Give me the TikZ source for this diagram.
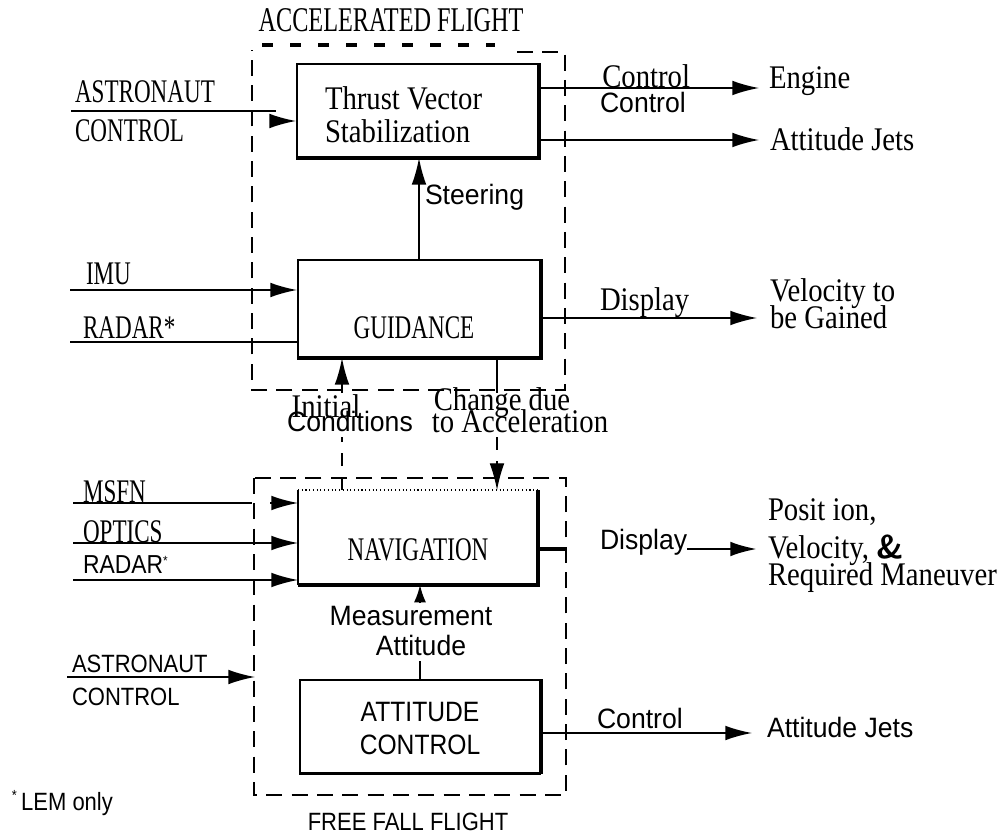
\documentclass[tikz,border=0pt]{standalone}
\usepackage{fontspec}
\setmainfont{Liberation Serif}
\newfontfamily\rmA[FakeStretch=0.70]{Liberation Serif}
\newfontfamily\rmB[FakeStretch=0.87]{Liberation Serif}
\newfontfamily\sfA[FakeStretch=0.88]{Liberation Sans}
\newfontfamily\sfB[FakeStretch=0.95]{Liberation Sans}
\usetikzlibrary{arrows.meta}
\begin{document}
\lineskiplimit=-40pt
\lineskip=0pt
\begin{tikzpicture}[x=0.75pt,y=-0.75pt,
  box/.style={draw, line width=1.4pt, inner sep=0pt, minimum width=180pt},
  heavy/.style={line width=3.2pt},
  conn/.style={line width=1.2pt},
  arr/.style={conn, -{Latex[length=20pt,width=11pt]}},
  frame/.style={line width=1.1pt, dash pattern=on 12pt off 7pt},
  topdots/.style={line width=3pt, dash pattern=on 8pt off 13pt},
  lab/.style={inner sep=0pt, outer sep=0pt},
  serU/.style={lab, font=\rmA\fontsize{24.75}{24.75}\selectfont},
  serL/.style={lab, font=\rmB\fontsize{24.75}{24.75}\selectfont},
  sanU/.style={lab, font=\sfA\fontsize{18.75}{18.75}\selectfont},
  sanL/.style={lab, font=\sfB\fontsize{21}{21}\selectfont}]
\useasboundingbox (0,0) rectangle (1005,837);
\fill[white] (0,0) rectangle (1005,837);

% ---------- accelerated flight ----------
\node[lab, font=\rmA\fontsize{26}{26}\selectfont] (acc) at (391,20) {ACCELERATED FLIGHT};
\draw[frame] (517,52) -- (565,52) -- (565,390) -- (252,390) -- (252,50);
\draw[topdots] (262,45) -- (495,45);

\node[box, minimum width=180.75pt, minimum height=69.75pt] (tvs) at (417.5,110.5) {};
\draw[heavy] (tvs.north east) -- (tvs.south east) -- (tvs.south west);
\node[serL, anchor=base west, align=left] (tvstxt) at (325,143) {Thrust Vector\\Stabilization};

\node[serU, anchor=base west] (astA) at (75,103) {ASTRONAUT};
\node[serU, anchor=base west] (ctlA) at (75,142) {CONTROL};
\coordinate (astAin) at (71,111);
\coordinate (astAend) at (276,111);
\coordinate (astAk) at (274,121);
\draw[conn] (astAin) -- (astAend);
\draw[arr] (astAk) -- (astAk -| tvs.west);

\node[serL, anchor=base west] (engine) at (769,89) {Engine};
\coordinate (yEng) at (759,88);
\draw[arr] (tvs.east |- yEng) -- (yEng);
\node[serL, anchor=base east] (ctl1) at (690,88) {Control};
\node[sanL, anchor=base west] (ctl2) at (600,113) {Control};
\node[serL, anchor=base west] (ajet1) at (770,151) {Attitude Jets};
\coordinate (yAj) at (759,140);
\draw[arr] (tvs.east |- yAj) -- (yAj);

\node[box, minimum width=181.5pt, minimum height=72.75pt] (gd) at (419,308.5) {};
\draw[heavy] (gd.north east) -- (gd.south east) -- (gd.south west);
\node[serU] (gdtxt) at (414,328) {GUIDANCE};
\draw[arr] (gd.north) -- (gd.north |- tvs.south);
\node[sanL, anchor=base west] (steer) at (425,205) {Steering};

\node[serU, anchor=base west] (imu) at (86,285) {IMU};
\coordinate (imuin) at (70,290);
\draw[arr] (imuin) -- (imuin -| gd.west);
\node[serU, anchor=base west] (radA) at (83,339) {RADAR*};
\coordinate (radAin) at (70,342);
\draw[conn] (radAin) -- (radAin -| gd.west);

\node[serL, anchor=base west] (disp1) at (600,311) {Display};
\coordinate (yDsp) at (757,318);
\draw[arr] (gd.east |- yDsp) -- (yDsp);
\node[lab, font=\rmB\fontsize{24.75}{20.25}\selectfont, anchor=base west, align=left] (vel) at (770,329) {Velocity to\\be Gained};

% ---------- labels between ----------
\node[serL] (init) at (326,406) {Initial};
\node[sanL] (cond) at (350,421) {Conditions};
\node[serL] (chg) at (502,403) {Change due};
\node[serL] (toacc) at (520,421) {to Acceleration};

% ---------- free fall flight ----------
\draw[frame] (254,478) rectangle (566,795);
\node[lab, minimum width=180pt, minimum height=71.25pt] (nav) at (418,537.5) {};
\draw[line width=1.4pt] (nav.north west) -- (nav.south west);
\draw[heavy] (nav.north east) -- (nav.south east) -- (nav.south west);
\draw[line width=0.8pt, dotted] (nav.north west) -- (nav.north east);
\node[serU] (navtxt) at (418,550) {NAVIGATION};

\coordinate (icA) at (342,393);
\coordinate (icB) at (342,437);
\draw[arr] (icA) -- (icA |- gd.south);
\draw[line width=0.8pt, dash pattern=on 10pt off 8pt] (icA |- nav.north) -- (icB);
\coordinate (chA) at (497,393);
\coordinate (chB) at (497,437);
\draw[conn] (chA |- gd.south) -- (chA);
\draw[line width=0.8pt, dash pattern=on 10pt off 8pt, -{Latex[length=20pt,width=11pt]}] (chB) -- (chB |- nav.north);

\node[serU, anchor=base west] (msfn) at (83,502) {MSFN};
\coordinate (msfnin) at (73,503);
\coordinate (msfnend) at (252,503);
\coordinate (msfnk) at (270,503);
\draw[conn] (msfnin) -- (msfnend);
\draw[arr] (msfnk) -- (msfnk -| nav.west);
\node[serU, anchor=base west] (opt) at (83,542) {OPTICS};
\coordinate (optin) at (73,543);
\draw[arr] (optin) -- (optin -| nav.west);
\node[lab, font=\sfA\fontsize{19.5}{19.5}\selectfont, anchor=base west] (radB) at (83,573) {RADAR\raisebox{6pt}{\fontsize{10}{10}\selectfont *}};
\coordinate (radBin) at (73,580);
\draw[arr] (radBin) -- (radBin -| nav.west);

\coordinate (yDsp2) at (757,549);
\coordinate (dspStop) at (566,549);
\draw[heavy] (nav.east |- yDsp2) -- (dspStop);
\node[sanL, anchor=base west] (disp2) at (600,549) {Display};
\draw[arr, line width=2pt] (disp2.east |- yDsp2) -- (yDsp2);
\node[lab, font=\rmB\fontsize{24.75}{20.25}\selectfont, anchor=base west, align=left] (pos) at (768,585) {Posit ion,\\[8pt]Velocity, {\sffamily\bfseries\&}\\Required Maneuver};

\node[box, minimum width=180pt, minimum height=69.75pt] (att) at (420,726.5) {};
\draw[heavy] (att.north east) -- (att.south east);
\draw[line width=2.2pt] (att.south east) -- (att.south west);
\node[lab, font=\sfA\fontsize{21}{24.75}\selectfont, align=center] (atttxt) at (420,728) {ATTITUDE\\CONTROL};

\node[sanL, anchor=base] (meas1) at (411,625) {Measurement};
\node[sanL, anchor=base] (meas2) at (421,655) {Attitude};
\coordinate (mA) at (420,661);
\coordinate (mB) at (420,603);
\draw[conn] (att.north) -- (mA);
\draw[conn, -{Latex[length=13pt,width=9pt]}] (mB) -- (mB |- nav.south);

\node[sanU, anchor=base west] (astB) at (72,672) {ASTRONAUT};
\node[sanU, anchor=base west] (ctlB) at (72,705) {CONTROL};
\coordinate (astBin) at (67,677);
\coordinate (astBend) at (255,677);
\draw[arr] (astBin) -- (astBend);

\coordinate (yAj2) at (752,733);
\draw[arr] (att.east |- yAj2) -- (yAj2);
\node[sanL, anchor=base west] (ctl3) at (597,728) {Control};
\node[sanL, anchor=base west] (ajet2) at (767,737) {Attitude Jets};

\node[sanU, anchor=base] (ffl) at (408,830) {FREE FALL FLIGHT};
\node[sanU, anchor=base west] (lem) at (12,810) {\raisebox{7pt}{\fontsize{11}{11}\selectfont *}\,LEM only};
\end{tikzpicture}
\end{document}
